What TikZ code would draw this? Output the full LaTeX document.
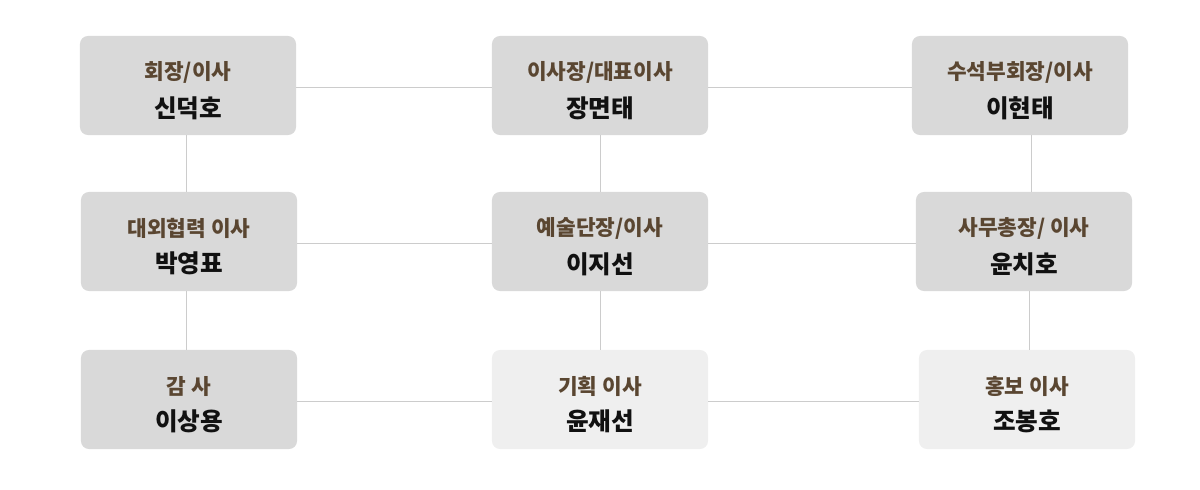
\documentclass[tikz,border=0pt]{standalone}
\usepackage{fontspec}
\setmainfont{Noto Sans CJK KR}
\definecolor{boxdark}{HTML}{D9D9D9}
\definecolor{boxlight}{HTML}{EFEFEF}
\definecolor{titlebrown}{HTML}{5A4631}
\definecolor{namegray}{HTML}{111111}
\definecolor{linegray}{HTML}{CCCCCC}
\newcommand{\officer}[2]{{\color{titlebrown}\fontsize{15.2}{18}\selectfont\bfseries\rule{0pt}{20pt}#1}\\[8.5pt]{\color{namegray}\fontsize{17.5}{18}\selectfont\bfseries #2}}
\begin{document}
\begin{tikzpicture}[x=0.025cm, y=-0.025cm,
  board/.style={rectangle, rounded corners=0.2cm, minimum width=5.4cm, minimum height=2.475cm, align=center, inner sep=0pt, fill=boxdark},
  board light/.style={board, fill=boxlight},
  link/.style={draw=linegray, line width=0.6pt}]
        \useasboundingbox (0,0) rectangle (1200,489);

          \node[board] (chair) at (188,85.5) {\officer{회장/이사}{신덕호}};
          \node[board] (ceo) at (600,85.5) {\officer{이사장/대표이사}{장면태}};
          \node[board] (vice) at (1020,85.5) {\officer{수석부회장/이사}{이현태}};
          \node[board] (extern) at (189,241.5) {\officer{대외협력 이사}{박영표}};
          \node[board] (art) at (600,241.5) {\officer{예술단장/이사}{이지선}};
          \node[board] (office) at (1024,241.5) {\officer{사무총장/ 이사}{윤치호}};
          \node[board] (audit) at (189,399.5) {\officer{감 사}{이상용}};
          \node[board light] (plan) at (600,399.5) {\officer{기획 이사}{윤재선}};
          \node[board light] (promo) at (1027,399.5) {\officer{홍보 이사}{조봉호}};

          % horizontal links
          \path[link]
            ([yshift=-1.5]chair.east) edge ([yshift=-1.5]chair.east -| ceo.west)
            ([yshift=-1.5]ceo.east) edge ([yshift=-1.5]ceo.east -| vice.west)
            ([yshift=-1.5]extern.east) edge ([yshift=-1.5]extern.east -| art.west)
            ([yshift=-1.5]art.east) edge ([yshift=-1.5]art.east -| office.west)
            ([yshift=-1.5]audit.east) edge ([yshift=-1.5]audit.east -| plan.west)
            ([yshift=-1.5]plan.east) edge ([yshift=-1.5]plan.east -| promo.west);

          % vertical links
          \path[link]
            ([xshift=-1]chair.south) edge ([xshift=-1]chair.south |- extern.north)
            ([xshift=-2]extern.south) edge ([xshift=-2]extern.south |- audit.north)
            (ceo) edge (art)
            (art) edge (plan)
            ([xshift=8]vice.south) edge ([xshift=8]vice.south |- office.north)
            ([xshift=4]office.south) edge ([xshift=4]office.south |- promo.north);

        \end{tikzpicture}
\end{document}
